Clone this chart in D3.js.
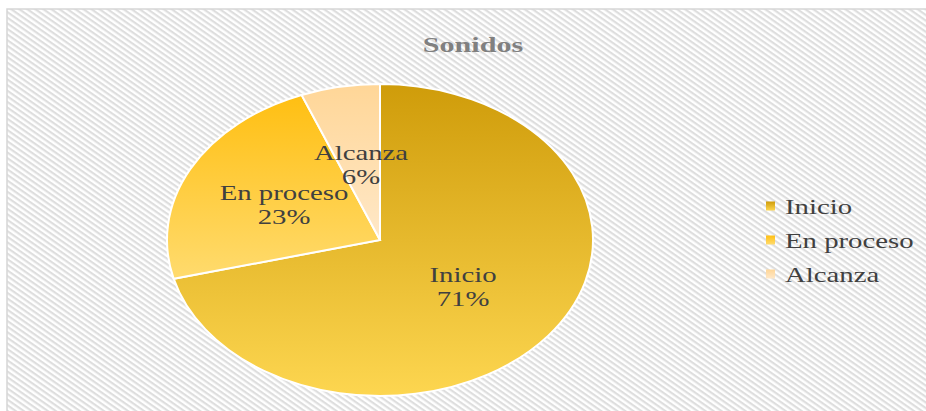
<!DOCTYPE html>
<html lang="es">
<head>
<meta charset="UTF-8">
<title>Sonidos</title>
<script src="https://cdn.jsdelivr.net/npm/d3@7"></script>
<style>
  body { margin: 0; background: #fff; }
  svg text { font-family: "Liberation Serif", "Times New Roman", serif; }
</style>
</head>
<body>
<div id="chart"></div>
<script>
var categories = ["Inicio", "En proceso", "Alcanza"];
var values = [71, 23, 6];
var labels = ["71%", "23%", "6%"];
// top / bottom colours of each slice gradient
var topColors = ["#cf9c0a", "#ffbf12", "#ffd697"];
var bottomColors = ["#fdd650", "#ffdb6e", "#ffe8c8"];

var W = 926, H = 411;
var sx = 1.37; // the whole picture is stretched horizontally
var svg = d3.select("#chart").append("svg").attr("width", W).attr("height", H);
var defs = svg.append("defs");

// hatched background
var pat = defs.append("pattern").attr("id", "hatch")
  .attr("patternUnits", "userSpaceOnUse")
  .attr("width", 4.6).attr("height", 4.6)
  .attr("patternTransform", "rotate(35)");
pat.append("rect").attr("width", 4.6).attr("height", 4.6).attr("fill", "#ffffff");
pat.append("rect").attr("width", 4.6).attr("height", 2.2).attr("fill", "#dedede");

svg.append("rect").attr("x", 7).attr("y", 9).attr("width", W).attr("height", H)
  .attr("fill", "url(#hatch)").attr("stroke", "#d6d6d6").attr("stroke-width", 1.5);

categories.forEach(function(c, i) {
  var g = defs.append("linearGradient").attr("id", "grad" + i)
    .attr("x1", 0).attr("y1", 0).attr("x2", 0).attr("y2", 1);
  g.append("stop").attr("offset", "0%").attr("stop-color", topColors[i]);
  g.append("stop").attr("offset", "100%").attr("stop-color", bottomColors[i]);
});

function stretchedText(x, y, anchor) {
  return svg.append("g").attr("transform", "translate(" + x + "," + y + ") scale(" + sx + ",1)")
    .append("text").attr("text-anchor", anchor);
}

stretchedText(473, 52, "middle")
  .attr("font-size", 22).attr("font-weight", "bold").attr("fill", "#808080")
  .text("Sonidos");

var cx = 380, cy = 240, ry = 156, px = 213 / 156;
var pie = d3.pie().sort(null).value(function(d) { return d; });
var arcs = pie(values);
var arc = d3.arc().innerRadius(0).outerRadius(ry);

var pg = svg.append("g").attr("transform", "translate(" + cx + "," + cy + ") scale(" + px + ",1)");
pg.selectAll("path").data(arcs).enter().append("path")
  .attr("d", arc)
  .attr("fill", function(d, i) { return "url(#grad" + i + ")"; })
  .attr("stroke", "#fff")
  .attr("stroke-width", 2)
  .attr("vector-effect", "non-scaling-stroke");

// data labels
var labelPos = [[463, 275], [284, 193], [361, 153]];
arcs.forEach(function(d, i) {
  var t = stretchedText(labelPos[i][0], labelPos[i][1], "middle")
    .attr("font-size", 21).attr("fill", "#404040");
  t.append("tspan").attr("x", 0).attr("y", 7).text(categories[i]);
  t.append("tspan").attr("x", 0).attr("y", 31).text(labels[i]);
});

// legend
var lg = svg.append("g").attr("transform", "translate(766,206)");
var item = lg.selectAll("g").data(categories).enter().append("g")
  .attr("transform", function(d, i) { return "translate(0," + (i * 34) + ")"; });
item.append("rect").attr("x", 0).attr("y", -4.5).attr("width", 9).attr("height", 9)
  .attr("fill", function(d, i) { return "url(#grad" + i + ")"; });
item.append("text").attr("transform", "translate(19,8) scale(" + sx + ",1)")
  .attr("font-size", 21).attr("fill", "#404040")
  .text(function(d) { return d; });
</script>
</body>
</html>
